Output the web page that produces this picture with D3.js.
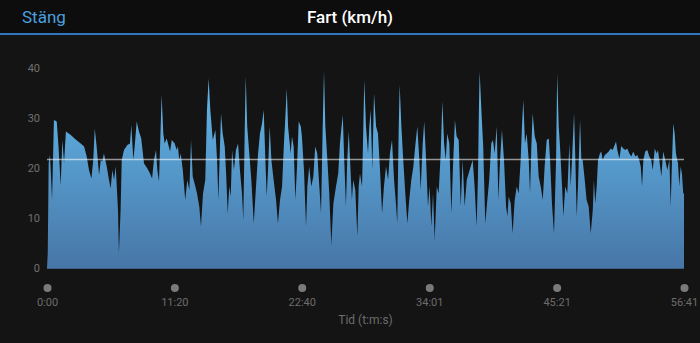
<!DOCTYPE html>
<html>
<head>
<meta charset="utf-8">
<script src="https://cdn.jsdelivr.net/npm/d3@7"></script>
<style>
  html, body { margin: 0; padding: 0; background: #141414; }
  svg { display: block; font-family: Roboto, "Liberation Sans", sans-serif; }
</style>
</head>
<body>
<div id="chart"></div>
<script>
// speed trace: [seconds since start, km/h]
const speedSamples = [
  [0,0],[4,3],[9,21],[16,22.6],[27,13.6],[37,29.6],[52,29.3],[62,24],[73,16.5],[82,25.6],[91,21],[101,27.3],
  [127,26.6],[153,25.7],[180,24.9],[198,24.3],[212,22.3],[224,19.6],[237,17.9],[247,21.6],[255,27.9],[265,24.3],
  [278,18.6],[287,21.6],[295,21.3],[304,22.9],[319,20.3],[331,17.6],[340,15.9],[349,19.6],[358,17.6],[367,20.3],
  [379,11.6],[384,2.9],[393,11.6],[399,21.6],[411,23.6],[429,24.6],[443,24.9],[450,28.6],[461,21.6],[468,24.3],
  [479,29.3],[491,27.3],[503,25.9],[518,20.9],[536,19.9],[550,18.9],[561,17.9],[571,21.6],[582,23.6],[589,19.6],
  [598,17.3],[607,28.3],[612,34.6],[621,26.9],[628,24.9],[639,25.9],[646,24.9],[657,23.3],[666,25.6],
  [682,24.9],[692,23.6],[699,24.3],[706,21.6],[714,22.9],[725,19.6],[738,13.6],[749,17.6],[760,15.6],[769,25.6],
  [778,18.3],[792,16.3],[801,14.9],[813,12.3],[822,8.3],[833,14.9],[845,17.6],[854,31.6],[863,37.9],[872,31.6],
  [885,25.6],[899,27.6],[908,21.6],[915,13.6],[924,24.9],[929,30.9],[938,26.9],[949,24.3],[957,18.3],[965,10.9],
  [973,16.3],[981,14.3],[988,23.6],[998,19.6],[1009,23.6],[1020,24.9],[1030,19.6],[1041,14.9],[1048,9.6],[1056,28.3],
  [1061,38.3],[1069,28.3],[1080,22.9],[1091,17.6],[1104,8.9],[1116,16.3],[1127,22.9],[1137,26.9],[1148,28.9],
  [1157,31.6],[1166,21.6],[1173,14.3],[1180,19.6],[1189,28.3],[1198,21.6],[1210,17.6],[1223,13.6],[1233,8.9],
  [1244,13.6],[1255,16.3],[1265,24.9],[1272,29.6],[1280,35.9],[1287,28.3],[1294,25.6],[1301,22.9],[1308,26.3],
  [1317,24.3],[1326,13.6],[1335,20.3],[1344,29.3],[1355,28.3],[1361,26.3],
  [1372,19.6],[1383,8.3],[1390,16.3],[1400,20.3],[1411,16.3],[1422,18.3],[1432,24.3],[1443,22.9],[1454,16.3],
  [1463,10.9],[1472,28.3],[1479,39.3],[1486,28.3],[1497,21.6],[1507,14.9],[1518,4.6],[1529,12.9],[1543,16.3],
  [1555,18.9],[1564,24.9],[1579,30.6],[1587,21.6],[1596,12.3],[1603,21.6],[1611,27.3],[1618,21.6],[1628,13.6],
  [1635,17.6],[1646,15.6],[1657,6.3],[1664,16.3],[1671,18.9],[1682,16.3],[1689,28.3],[1694,37.6],[1703,28.3],
  [1714,22.9],[1721,28.3],[1728,31.6],[1737,19.6],[1746,34.9],[1757,28.3],[1767,26.9],[1778,19.6],[1789,10.9],
  [1799,16.3],[1810,20.3],[1821,17.6],[1831,22.9],[1842,25.6],[1853,17.6],[1863,12.9],[1870,8.9],[1878,28.3],
  [1883,36.6],[1892,28.3],[1902,21.6],[1913,14.9],[1924,8.9],[1934,13.6],[1945,17.6],[1956,20.3],[1966,24.3],
  [1977,28.3],[1988,21.6],[1995,15.6],[2006,24.9],[2014,29.3],[2024,21.6],[2034,12.3],
  [2043,16.3],[2052,8.3],[2061,14.9],[2070,5.6],[2081,16.3],[2091,14.9],[2102,22.9],[2111,33.3],[2120,24.9],
  [2129,21.6],[2137,26.9],[2148,24.9],[2159,10.9],[2169,21.6],[2178,29.6],[2187,26.3],[2198,25.6],[2209,12.3],
  [2219,21.6],[2230,12.3],[2241,17.6],[2251,18.9],[2262,20.3],[2273,21.6],[2283,16.3],[2294,8.3],[2301,18.3],
  [2306,31.6],[2310,39.3],[2319,31.6],[2329,24.3],[2340,8.9],[2351,13.6],[2361,17.6],[2372,24.9],[2381,25.6],
  [2390,22.9],[2401,28.3],[2410,13.6],[2419,21.6],[2429,27.6],[2440,21.6],[2451,12.3],[2458,10.3],[2465,14.3],
  [2476,12.9],[2486,6.9],[2497,13.6],[2508,16.3],[2518,14.9],[2529,21.6],[2536,28.3],[2543,33.6],[2552,24.9],
  [2561,26.9],[2572,21.6],[2579,14.9],[2586,24.3],[2593,30.9],[2604,26.3],[2615,24.9],[2625,18.3],[2636,16.3],
  [2647,13.6],[2657,20.3],[2668,25.6],[2679,25.9],[2686,21.6],[2696,12.9],[2707,6.9],[2718,21.6],[2724,38.9],
  [2732,28.3],[2739,24.3],[2750,16.3],[2757,10.3],[2767,16.3],[2778,14.9],[2789,24.9],[2796,16.3],[2803,21.6],
  [2814,30.9],[2821,21.6],[2828,10.3],[2835,16.3],[2846,29.6],[2853,21.6],[2860,21.6],[2871,17.6],[2881,13.6],
  [2892,12.3],[2903,6.9],[2914,11.6],[2920,17.6],[2927,12.9],[2935,16.3],[2942,21.6],[2952,22.9],[2959,23.3],
  [2967,21.6],[2978,22.6],[2988,22.9],[2999,23.3],[3010,23.9],[3020,23.6],[3031,24.6],[3038,25.3],[3045,23.6],
  [3056,21.9],[3066,24.4],[3077,23.9],[3088,23.6],[3098,23.9],[3109,22.9],[3120,22.3],[3130,23.3],[3141,22.3],
  [3152,22.6],[3162,21.6],[3170,20.3],[3177,16.3],[3184,21.6],[3194,23.3],[3205,23.6],[3216,22.3],[3226,21.6],
  [3234,19.6],[3245,23.9],[3255,22.9],[3262,23.6],[3269,21.6],[3280,18.3],[3290,23.3],[3301,21.6],[3312,19.6],
  [3323,21.6],[3330,12.3],[3337,21.6],[3344,28.9],[3351,26.9],[3358,22.9],[3369,20.9],[3376,16.3],[3383,20.3],
  [3390,18.9],[3397,14.9],[3401,14.9]
];
const avgSpeed = 21.7;
const yTicks = [0, 10, 20, 30, 40];
const xTicks = [0, 680, 1360, 2041, 2721, 3401]; // seconds
const title = "Fart (km/h)";
const closeLabel = "Stäng";
const xAxisTitle = "Tid (t:m:s)";

const W = 700, H = 343;
const svg = d3.select("#chart").append("svg")
  .attr("width", W)
  .attr("height", H);

// header bar
svg.append("rect").attr("width", W).attr("height", 34).attr("fill", "#0d0d0d");
svg.append("rect").attr("y", 33).attr("width", W).attr("height", 2).attr("fill", "#2f78bf");
svg.append("text")
  .attr("x", 22).attr("y", 23)
  .attr("fill", "#4aa0df")
  .style("font-size", "17px")
  .text(closeLabel);
svg.append("text")
  .attr("x", 350).attr("y", 23)
  .attr("text-anchor", "middle")
  .attr("fill", "#ffffff")
  .style("font-size", "17px")
  .style("font-weight", "500")
  .text(title);

const x = d3.scaleLinear().domain([0, 3401]).range([47, 684]);
const y = d3.scaleLinear().domain([0, 40]).range([268, 68]);

const grad = svg.append("defs").append("linearGradient")
  .attr("id", "fillGrad")
  .attr("gradientUnits", "userSpaceOnUse")
  .attr("x1", 0).attr("x2", 0)
  .attr("y1", y(40)).attr("y2", y(0));
grad.append("stop").attr("offset", "0%").attr("stop-color", "#64bbee");
grad.append("stop").attr("offset", "100%").attr("stop-color", "#4776a7");

const area = d3.area()
  .x(d => x(d[0]))
  .y0(y(0))
  .y1(d => y(d[1]));

svg.append("path")
  .datum(speedSamples)
  .attr("fill", "url(#fillGrad)")
  .attr("d", area);

// baseline
svg.append("line")
  .attr("x1", x(0)).attr("x2", x(3401))
  .attr("y1", y(0) + 0.5).attr("y2", y(0) + 0.5)
  .attr("stroke", "#3d5f80").attr("stroke-width", 1);

// average line
svg.append("line")
  .attr("x1", x(0)).attr("x2", x(3401))
  .attr("y1", y(avgSpeed)).attr("y2", y(avgSpeed))
  .attr("stroke", "rgba(255,255,255,0.55)")
  .attr("stroke-width", 1.5);

// y axis
const yAxis = svg.append("g")
  .attr("transform", "translate(40,0)")
  .call(d3.axisLeft(y).tickValues(yTicks).tickSize(0).tickPadding(0));
yAxis.select(".domain").remove();
yAxis.selectAll("text")
  .attr("fill", "#707070")
  .style("font-size", "11px")
  .style("font-family", "Roboto, sans-serif");

// x axis with dot markers
const fmt = s => Math.floor(s / 60) + ":" + String(s % 60).padStart(2, "0");
const xAxis = svg.append("g")
  .attr("transform", "translate(0,288)")
  .call(d3.axisBottom(x).tickValues(xTicks).tickFormat(fmt).tickSize(0).tickPadding(10));
xAxis.select(".domain").remove();
xAxis.selectAll(".tick").append("circle")
  .attr("r", 4)
  .attr("fill", "#7a7a7a");
xAxis.selectAll("text")
  .attr("fill", "#6c6c6c")
  .style("font-size", "11px")
  .style("font-family", "Roboto, sans-serif");

svg.append("text")
  .attr("x", (x(0) + x(3401)) / 2).attr("y", 324)
  .attr("text-anchor", "middle")
  .attr("fill", "#6c6c6c")
  .style("font-size", "12px")
  .text(xAxisTitle);
</script>
</body>
</html>
